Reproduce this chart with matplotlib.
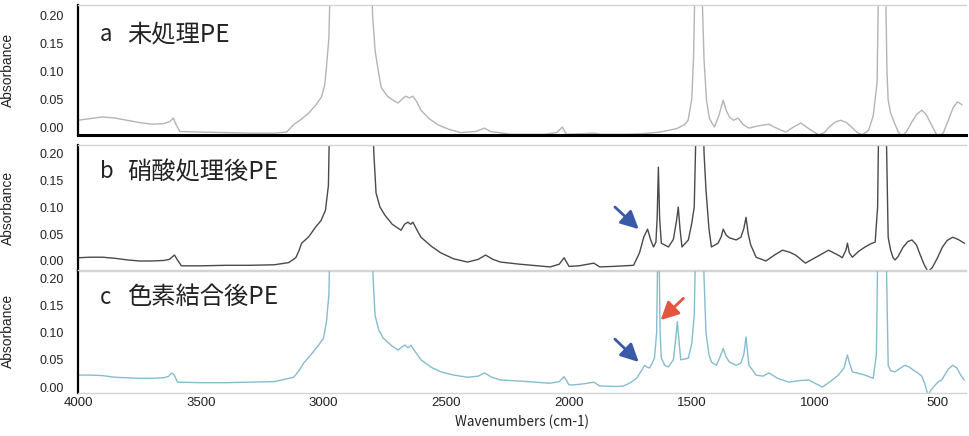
import numpy as np
import matplotlib
matplotlib.use('Agg')
import matplotlib.pyplot as plt

# spectra (wavenumber cm-1, absorbance)
wn_a = [4000, 3950, 3900, 3850, 3800, 3750, 3700, 3650, 3625, 3612, 3600, 3585, 3500, 3400, 3300, 3200, 3150, 3120,
        3093, 3060, 3030, 3008, 2995, 2988, 2978, 2965, 2920, 2850, 2815, 2800, 2790, 2775, 2765, 2740, 2710, 2696,
        2680, 2665, 2650, 2636, 2620, 2603, 2570, 2534, 2490, 2441, 2380, 2344, 2320, 2238, 2150, 2100, 2050, 2027,
        2015, 2007, 1950, 1898, 1870, 1765, 1700, 1630, 1562, 1530, 1515, 1500, 1493, 1485, 1470, 1462, 1450, 1440,
        1428, 1408, 1390, 1372, 1360, 1347, 1330, 1311, 1290, 1267, 1230, 1186, 1150, 1118, 1085, 1056, 1020, 983,
        960, 940, 915, 894, 870, 850, 825, 806, 780, 761, 745, 735, 720, 712, 705, 700, 690, 675, 660, 644, 625,
        605, 585, 563, 545, 525, 505, 490, 475, 455, 435, 417, 400]
abs_a = [0.012, 0.015, 0.018, 0.016, 0.012, 0.008, 0.005, 0.006, 0.010, 0.016, 0.004, -0.008, -0.009, -0.010, -0.011,
         -0.011, -0.009, 0.005, 0.013, 0.025, 0.040, 0.054, 0.075, 0.107, 0.16, 0.4, 0.9, 0.9, 0.4, 0.2, 0.137, 0.095,
         0.071, 0.055, 0.046, 0.043, 0.050, 0.055, 0.052, 0.055, 0.045, 0.030, 0.015, 0.004, -0.004, -0.010, -0.008,
         -0.002, -0.008, -0.013, -0.013, -0.013, -0.010, 0.000, -0.010, -0.013, -0.012, -0.011, -0.013, -0.013,
         -0.012, -0.009, -0.003, 0.004, 0.012, 0.05, 0.12, 0.3, 0.9, 0.3, 0.12, 0.048, 0.015, 0.000, 0.02, 0.048,
         0.030, 0.018, 0.012, 0.016, 0.004, -0.002, 0.002, 0.005, -0.003, -0.009, 0.000, 0.007, -0.004, -0.014,
         -0.010, 0.000, 0.009, 0.012, 0.008, 0.000, -0.010, -0.014, -0.006, 0.020, 0.08, 0.4, 0.9, 0.3, 0.1, 0.048,
         0.025, 0.008, -0.008, -0.017, -0.008, 0.008, 0.022, 0.030, 0.022, 0.005, -0.012, -0.017, -0.010, 0.012,
         0.035, 0.045, 0.040]

wn_b = [4000, 3950, 3900, 3850, 3800, 3750, 3700, 3650, 3628, 3615, 3607, 3595, 3579, 3500, 3400, 3300, 3200, 3142,
        3113, 3101, 3089, 3060, 3032, 3010, 2992, 2980, 2970, 2920, 2850, 2810, 2795, 2786, 2770, 2750, 2720, 2684,
        2670, 2656, 2645, 2636, 2620, 2603, 2560, 2522, 2470, 2413, 2370, 2340, 2310, 2279, 2200, 2077, 2040, 2020,
        2000, 1960, 1899, 1875, 1818, 1737, 1713, 1695, 1680, 1668, 1656, 1646, 1641, 1636, 1631, 1624, 1595, 1575,
        1562, 1555, 1548, 1540, 1514, 1500, 1490, 1480, 1470, 1460, 1450, 1442, 1430, 1420, 1393, 1380, 1372, 1360,
        1347, 1319, 1300, 1288, 1279, 1270, 1260, 1238, 1198, 1160, 1130, 1100, 1077, 1037, 990, 943, 900, 887, 872,
        866, 858, 846, 820, 794, 770, 753, 743, 735, 720, 710, 700, 690, 680, 672, 660, 640, 620, 603, 585, 570,
        555, 538, 520, 500, 480, 460, 437, 415, 390]
abs_b = [0.006, 0.007, 0.007, 0.005, 0.002, 0.000, 0.000, 0.001, 0.003, 0.008, 0.011, 0.002, -0.009, -0.009, -0.008,
         -0.008, -0.007, -0.003, 0.006, 0.018, 0.033, 0.045, 0.063, 0.075, 0.094, 0.14, 0.4, 0.9, 0.9, 0.4, 0.2,
         0.126, 0.100, 0.085, 0.068, 0.057, 0.068, 0.072, 0.068, 0.072, 0.058, 0.044, 0.027, 0.015, 0.004, -0.002,
         0.003, 0.011, 0.003, -0.002, -0.006, -0.011, -0.006, 0.006, -0.010, -0.009, -0.004, -0.011, -0.010, -0.008,
         0.015, 0.045, 0.059, 0.040, 0.026, 0.035, 0.08, 0.174, 0.08, 0.033, 0.026, 0.040, 0.075, 0.100, 0.060,
         0.026, 0.039, 0.070, 0.100, 0.3, 0.9, 0.4, 0.2, 0.131, 0.060, 0.026, 0.033, 0.045, 0.059, 0.048, 0.043,
         0.039, 0.044, 0.060, 0.081, 0.050, 0.030, 0.007, 0.000, 0.012, 0.020, 0.016, 0.011, -0.004, 0.008, 0.020,
         0.010, 0.006, 0.020, 0.033, 0.015, 0.007, 0.018, 0.026, 0.032, 0.035, 0.1, 0.4, 0.9, 0.3, 0.044, 0.020,
         0.006, 0.002, 0.008, 0.025, 0.036, 0.039, 0.030, 0.012, -0.005, -0.020, -0.012, 0.005, 0.025, 0.038, 0.044,
         0.040, 0.033]

wn_c = [4000, 3950, 3900, 3850, 3800, 3750, 3700, 3650, 3630, 3619, 3608, 3595, 3500, 3400, 3300, 3200, 3121, 3100,
        3081, 3050, 3020, 3000, 2988, 2978, 2968, 2920, 2850, 2812, 2798, 2790, 2775, 2757, 2720, 2696, 2680, 2668,
        2655, 2644, 2625, 2603, 2560, 2522, 2470, 2413, 2370, 2344, 2315, 2279, 2200, 2077, 2040, 2020, 2000, 1980,
        1940, 1899, 1875, 1800, 1778, 1750, 1725, 1705, 1692, 1680, 1672, 1660, 1652, 1643, 1636, 1629, 1624, 1610,
        1595, 1575, 1565, 1559, 1553, 1545, 1514, 1500, 1490, 1480, 1470, 1460, 1450, 1442, 1430, 1420, 1400, 1385,
        1372, 1360, 1347, 1319, 1300, 1288, 1279, 1272, 1267, 1238, 1210, 1186, 1150, 1105, 1060, 1024, 968, 930,
        903, 880, 866, 858, 846, 820, 794, 761, 748, 738, 720, 710, 700, 690, 672, 650, 632, 615, 600, 580, 563,
        550, 538, 525, 510, 495, 482, 470, 455, 437, 420, 405, 390]
abs_c = [0.022, 0.022, 0.021, 0.018, 0.017, 0.016, 0.016, 0.017, 0.020, 0.026, 0.022, 0.009, 0.008, 0.008, 0.009,
         0.010, 0.018, 0.030, 0.044, 0.060, 0.077, 0.090, 0.120, 0.17, 0.4, 0.9, 0.9, 0.4, 0.2, 0.132, 0.105, 0.090,
         0.075, 0.068, 0.074, 0.077, 0.072, 0.077, 0.064, 0.050, 0.036, 0.028, 0.022, 0.018, 0.020, 0.026, 0.018,
         0.013, 0.011, 0.007, 0.010, 0.019, 0.004, 0.004, 0.006, 0.009, 0.002, 0.001, 0.002, 0.008, 0.016, 0.030,
         0.040, 0.036, 0.035, 0.045, 0.053, 0.1, 0.35, 0.1, 0.053, 0.040, 0.037, 0.050, 0.090, 0.120, 0.090, 0.050,
         0.053, 0.080, 0.132, 0.35, 0.9, 0.4, 0.2, 0.100, 0.060, 0.046, 0.040, 0.055, 0.071, 0.055, 0.046, 0.040,
         0.044, 0.060, 0.092, 0.060, 0.040, 0.022, 0.020, 0.026, 0.016, 0.009, 0.012, 0.013, 0.000, 0.012, 0.022,
         0.035, 0.059, 0.045, 0.028, 0.025, 0.022, 0.016, 0.06, 0.4, 0.9, 0.3, 0.040, 0.030, 0.028, 0.035, 0.040,
         0.037, 0.032, 0.026, 0.020, 0.005, -0.015, -0.005, 0.003, 0.010, 0.013, 0.022, 0.033, 0.040, 0.035, 0.022,
         0.013]

letters = ['a', 'b', 'c']
names = ['未処理PE', '硝酸処理後PE', '色素結合後PE']
yticks = [0.00, 0.05, 0.10, 0.15, 0.20]
xticks = [4000, 3500, 3000, 2500, 2000, 1500, 1000, 500]

W, H = 969, 436
fig = plt.figure(figsize=(W / 100, H / 100), dpi=100)
fig.patch.set_facecolor('white')

# panel boxes in pixels (top, bottom) and y limits
boxes = [(5, 135.4), (145, 270.7), (270, 392.5)]
ylims = [(-0.015, 0.218), (-0.018, 0.215), (-0.01, 0.215)]
colors = ['#b4b4b4', '#4a4a4a', '#86bccd']
data = [(wn_a, abs_a), (wn_b, abs_b), (wn_c, abs_c)]
x0, x1 = 78, 966

cjk = ['Noto Sans CJK JP', 'DejaVu Sans']
axes = []
for i in range(3):
    top, bot = boxes[i]
    ax = fig.add_axes([x0 / W, 1 - bot / H, (x1 - x0) / W, (bot - top) / H])
    ax.set_facecolor('none')
    wn, ab = data[i]
    ax.plot(wn, ab, color=colors[i], lw=1.0)
    ax.set_xlim(4000, 383)
    ax.set_ylim(*ylims[i])
    ax.set_yticks(yticks)
    ax.set_yticklabels(['%.2f' % v for v in yticks], fontsize=9, family='Liberation Sans', color='#222222')
    ax.tick_params(axis='y', length=0, pad=10)
    ax.set_xticks(xticks)
    ax.tick_params(axis='x', length=0, pad=3)
    if i < 2:
        ax.set_xticklabels([])
    else:
        ax.set_xticklabels([str(v) for v in xticks], fontsize=9.5, family='Liberation Sans', color='#222222')
    ax.set_ylabel('Absorbance', fontsize=10, family='Liberation Sans', color='#222222')
    ax.yaxis.set_label_coords(-0.071, 0.5)
    ax.spines['right'].set_visible(False)
    ax.spines['left'].set_color('black')
    ax.spines['left'].set_linewidth(1.6)
    ax.spines['top'].set_color('#d4d4d4')
    ax.spines['top'].set_linewidth(1.0)
    if i == 0:
        ax.spines['bottom'].set_color('black')
        ax.spines['bottom'].set_linewidth(2.2)
    else:
        ax.spines['bottom'].set_color('#d4d4d4')
        ax.spines['bottom'].set_linewidth(1.0)
    ax.text(3911, 0.165, letters[i], fontsize=16, family=cjk, color='#222222', va='center', ha='left')
    ax.text(3800, 0.165, names[i], fontsize=17.5, family=cjk, color='#222222', va='center', ha='left')
    axes.append(ax)

axes[2].set_xlabel('Wavenumbers (cm-1)', fontsize=9.7, family=cjk, color='#222222', labelpad=4)

blue = '#3a5aa8'
red = '#e3553f'
astyle = '-|>,head_width=0.45,head_length=0.9'
axes[1].annotate('', xy=(1716, 0.059), xytext=(1813, 0.100),
                 arrowprops=dict(arrowstyle=astyle, color=blue, lw=2, shrinkA=0, shrinkB=0, mutation_scale=12))
axes[2].annotate('', xy=(1716, 0.046), xytext=(1813, 0.088),
                 arrowprops=dict(arrowstyle=astyle, color=blue, lw=2, shrinkA=0, shrinkB=0, mutation_scale=12))
axes[2].annotate('', xy=(1627, 0.123), xytext=(1534, 0.163),
                 arrowprops=dict(arrowstyle=astyle, color=red, lw=2, shrinkA=0, shrinkB=0, mutation_scale=12))

fig.savefig('out.png', dpi=100)
